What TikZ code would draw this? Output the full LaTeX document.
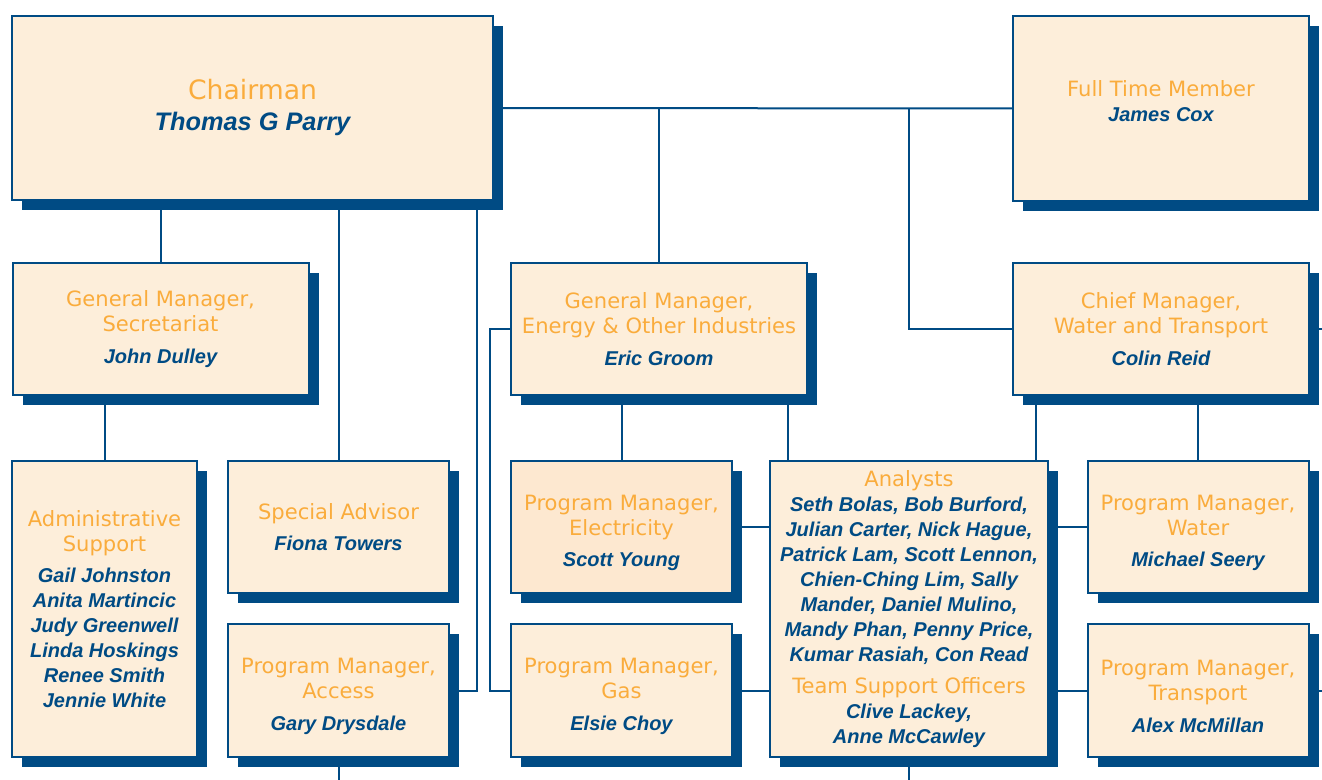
\documentclass[tikz,border=0pt]{standalone}
\usepackage{fontspec}
\setmainfont{Liberation Sans}
\newfontfamily\titlefont{DejaVu Sans}
\usetikzlibrary{shadows,backgrounds,calc}
\definecolor{orgblue}{RGB}{0,75,132}
\definecolor{orgorange}{RGB}{250,172,60}
\definecolor{orgcream}{RGB}{253,238,218}
\definecolor{orgpeach}{RGB}{253,232,208}
\newcommand\ttl[2][15.8]{{\titlefont\fontsize{#1}{18.75}\selectfont\color{orgorange}#2}}
\newcommand\nm[2][15]{{\fontsize{#1}{18.75}\selectfont\bfseries\itshape\color{orgblue}#2}}
\tikzset{
  orgbox/.style={draw=orgblue,fill=orgcream,line width=1.5pt,align=center,
    inner sep=2pt,font=\fontsize{15}{18.75}\selectfont,
    drop shadow={shadow xshift=7.5pt,shadow yshift=-7.5pt,fill=orgblue,opacity=1}},
  wide/.style={minimum width=222pt,minimum height=99pt},
  small/.style={minimum width=165.75pt,minimum height=99.5pt},
  pmbox/.style={small,text height=63pt},
  tall/.style={minimum height=222pt},
  orgline/.style={draw=orgblue,line width=1.5pt}
}
\begin{document}
\begin{tikzpicture}[x=0.75pt,y=-0.75pt]
  \useasboundingbox (0,0) rectangle (1322,780);
  \node[orgbox,minimum width=360.75pt,minimum height=138pt,
    font=\fontsize{20}{23.25}\selectfont] (chair) at (252.5,108)
    {\ttl[20]{Chairman}\\\nm[19]{Thomas G Parry}};
  \node[orgbox,minimum width=222pt,minimum height=138.75pt] (ftm) at (1161,108.5)
    {\ttl{Full Time Member}\\\nm{James Cox}\\[-8pt]};
  \node[orgbox,wide] (gmsec) at (160.5,329)
    {\ttl{General Manager,}\\\ttl{Secretariat}\\[5pt]\nm{John Dulley}};
  \node[orgbox,wide] (gmen) at (659,329)
    {\ttl{General Manager,}\\\ttl{Energy \& Other Industries}\\[5pt]\nm{Eric Groom}};
  \node[orgbox,wide] (chief) at (1161,329)
    {\ttl{Chief Manager,}\\\ttl{Water and Transport}\\[5pt]\nm{Colin Reid}};
  \node[orgbox,tall,minimum width=138.75pt] (admin) at (104.5,609)
    {\ttl{Administrative}\\\ttl{Support}\\[5pt]\nm{Gail Johnston}\\\nm{Anita Martincic}\\
     \nm{Judy Greenwell}\\\nm{Linda Hoskings}\\\nm{Renee Smith}\\\nm{Jennie White}};
  \node[orgbox,small] (spec) at (338.5,527)
    {\ttl{Special Advisor}\\[5pt]\nm{Fiona Towers}};
  \node[orgbox,pmbox,fill=orgpeach] (elec) at (621.5,527)
    {\ttl{Program Manager,}\\\ttl{Electricity}\\[5pt]\nm{Scott Young}};
  \node[orgbox,tall,minimum width=208.5pt] (anal) at (909,609)
    {\ttl{Analysts}\\\nm{Seth Bolas, Bob Burford,}\\\nm{Julian Carter, Nick Hague,}\\
     \nm{Patrick Lam, Scott Lennon,}\\\nm{Chien-Ching Lim, Sally}\\
     \nm{Mander, Daniel Mulino,}\\\nm{Mandy Phan, Penny Price,}\\
     \nm{Kumar Rasiah, Con Read}\\[5pt]\ttl{Team Support Officers}\\
     \nm{Clive Lackey,}\\\nm{Anne McCawley}};
  \node[orgbox,pmbox] (water) at (1198,527)
    {\ttl{Program Manager,}\\\ttl{Water}\\[5pt]\nm{Michael Seery}};
  \node[orgbox,pmbox] (access) at (338.5,690.5)
    {\ttl{Program Manager,}\\\ttl{Access}\\[5pt]\nm{Gary Drysdale}};
  \node[orgbox,pmbox] (gas) at (621.5,690.5)
    {\ttl{Program Manager,}\\\ttl{Gas}\\[5pt]\nm{Elsie Choy}};
  \node[orgbox,pmbox] (trans) at (1198,690.5)
    {\ttl{Program Manager,}\\\ttl{Transport}\\[5pt]\nm{Alex McMillan}};
  \coordinate (tjoin) at (909,108);
  \coordinate (accjoin) at (477,108);
  \coordinate (analtopL) at ($(anal.north west)+(19,0)$);
  \coordinate (analtopR) at ($(anal.north east)+(-13,0)$);
  \coordinate (edgechief) at (1322,329);
  \coordinate (edgetrans) at (1322,690.5);
  \coordinate (edgeacc) at (338.5,780);
  \coordinate (edgeanal) at (909,780);
  \begin{scope}[on background layer]
    \draw[orgline] (chair.east) -- (ftm.west);
    \draw[orgline] (gmen.north) -- (gmen.north |- chair.east);
    \draw[orgline] (chief.west) -| (tjoin);
    \draw[orgline] (gmsec.north) -- (gmsec.north |- chair.south);
    \draw[orgline] (spec.north) -- (spec.north |- chair.south);
    \draw[orgline] (accjoin |- chair.south) |- (access.east);
    \draw[orgline] (admin.north) -- (admin.north |- gmsec.south);
    \draw[orgline] (elec.north) -- (elec.north |- gmen.south);
    \draw[orgline] (analtopL) -- (analtopL |- gmen.south);
    \draw[orgline] (gmen.west) -- ++(-20,0) |- (gas.west);
    \draw[orgline] (analtopR) -- (analtopR |- chief.south);
    \draw[orgline] (water.north) -- (water.north |- chief.south);
    \draw[orgline] (elec.east) -- (elec.east -| anal.west);
    \draw[orgline] (gas.east) -- (gas.east -| anal.west);
    \draw[orgline] (water.west) -- (water.west -| anal.east);
    \draw[orgline] (trans.west) -- (trans.west -| anal.east);
    \draw[orgline] (chief.east) -- (edgechief);
    \draw[orgline] (trans.east) -- (edgetrans);
    \draw[orgline] (access.south) -- (edgeacc);
    \draw[orgline] (anal.south) -- (edgeanal);
  \end{scope}
\end{tikzpicture}
\end{document}
